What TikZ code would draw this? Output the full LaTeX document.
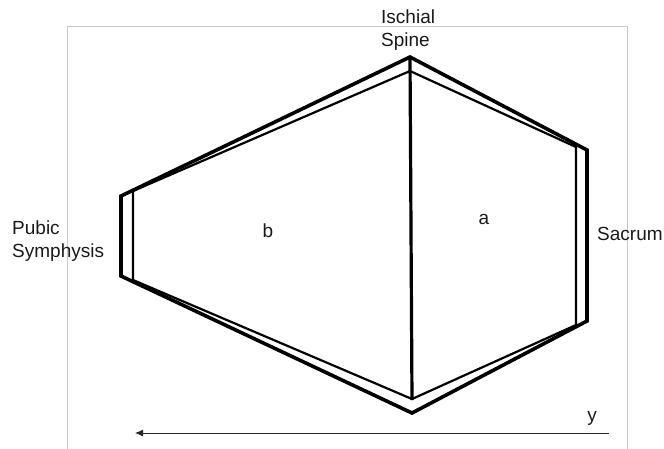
\documentclass[tikz,border=0pt]{standalone}
\usepackage{fontspec}
\setmainfont{Liberation Sans}
\usetikzlibrary{arrows.meta}
\begin{document}
\begin{tikzpicture}[x=1pt,y=-1pt,
  lbl/.style={inner sep=0pt,font=\fontsize{19}{23}\selectfont,text=black!90},
  outerpoly/.style={line width=3.6pt,line join=miter,black},
  innerpoly/.style={line width=2.2pt,line join=miter,black},
  midline/.style={line width=3.2pt,black},
  frame/.style={draw=black!22,line width=0.8pt},
  axis/.style={line width=0.9pt,black!85,-{Latex[length=8pt,width=7pt]}}]
\useasboundingbox (0,0) rectangle (664,448);
\draw[frame] (67,460) -- (67,26) -- (627,26) -- (627,460);
% outer hexagon
\coordinate (o1) at (121,196);
\coordinate (o2) at (410,57);
\coordinate (o3) at (587,150);
\coordinate (o4) at (587,321);
\coordinate (o5) at (412,413);
\coordinate (o6) at (121,276);
% inner hexagon
\coordinate (i1) at (133,191);
\coordinate (i2) at (410,71);
\coordinate (i3) at (576,147);
\coordinate (i4) at (576,325);
\coordinate (i5) at (412,399);
\coordinate (i6) at (133,280);
\draw[innerpoly] (i1) -- (i2) -- (i3) -- (i4) -- (i5) -- (i6) -- cycle;
\draw[outerpoly] (o1) -- (o2) -- (o3) -- (o4) -- (o5) -- (o6) -- cycle;
\coordinate (vb) at (412,400);
\draw[midline] (o2) -- (vb);
% labels
\node[lbl,anchor=base west,align=left] (isch) at (381,46) {Ischial\\Spine};
\node[lbl,anchor=base west,align=left] (pubic) at (12,257) {Pubic\\Symphysis};
\node[lbl,anchor=base west] (sacrum) at (597,240) {Sacrum};
\node[lbl] (b) at (268,231) {b};
\node[lbl] (a) at (484,219) {a};
\node[lbl] (y) at (592,418) {y};
% axis arrow
\coordinate (ax1) at (609,433);
\coordinate (ax2) at (135,433);
\draw[axis] (ax1) -- (ax2);
\end{tikzpicture}
\end{document}
